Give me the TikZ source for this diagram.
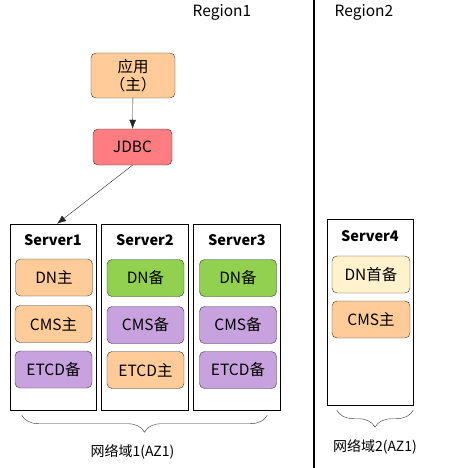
\documentclass[tikz,border=0pt]{standalone}
\usepackage{fontspec}
\setmainfont{Noto Sans CJK SC}
\usetikzlibrary{arrows.meta,positioning,calc,decorations.pathreplacing}

\definecolor{peach}{RGB}{255,204,153}
\definecolor{leaf}{RGB}{146,208,80}
\definecolor{lilac}{RGB}{200,162,222}
\definecolor{cream}{RGB}{255,242,204}
\definecolor{salmon}{RGB}{255,124,128}

\begin{document}
\begin{tikzpicture}[
    x=1pt, y=-1pt,
    >={Latex[length=9pt,width=7pt]},
    basebox/.style={
        draw=black!80,
        rounded corners=5pt,
        align=center,
        minimum width=77pt,
        minimum height=37pt,
        inner sep=0pt,
        font=\fontsize{15.5}{17}\selectfont
    },
    % Role colours
    mainbox/.style={basebox, fill=peach},
    standbybox/.style={basebox, fill=lilac},
    dnbox/.style={basebox, fill=leaf},
    firstbox/.style={basebox, fill=cream},
    jdbcbox/.style={basebox, fill=salmon},
    serverbox/.style={draw, minimum width=86pt, minimum height=186pt, inner sep=0pt},
    title/.style={font=\bfseries\fontsize{14.5}{16}\selectfont},
    regionlabel/.style={font=\fontsize{15.5}{17}\selectfont},
    domainlabel/.style={font=\fontsize{14}{16}\selectfont},
    brace/.style={decorate, decoration={brace, mirror, amplitude=17pt}, draw=black!80},
    arrow/.style={->, draw=black!85}
]
\useasboundingbox (0,0) rectangle (464,468);

% Regions
\node[regionlabel] (r1) at (222,12) {Region1};
\node[regionlabel] (r2) at (364,12) {Region2};
\coordinate (divtop) at (314,0);
\coordinate (divbot) at (314,468);
\draw[line width=2pt] (divtop) -- (divbot);

% Application
\node[mainbox, minimum width=84pt, minimum height=45pt, font=\fontsize{15.5}{18}\selectfont] (app) at (133,75.5) {应用\\（主）};
\node[jdbcbox, minimum width=79pt, minimum height=36pt] (jdbc) at (132.5,147) {JDBC};

% Servers
\node[serverbox] (s1) at (53,317) {};
\node[serverbox, minimum width=87pt] (s2) at (145,317) {};
\node[serverbox, minimum width=87pt] (s3) at (236.5,317) {};
\node[serverbox] (s4) at (370,312) {};

\node[title] (t1) at (53,240) {Server1};
\node[title] (t2) at (145,240) {Server2};
\node[title] (t3) at (237,240) {Server3};
\node[title] (t4) at (370,236) {Server4};

\node[mainbox] (dn1) at (54,277.5) {DN主};
\node[mainbox] (cms1) at (53.5,324) {CMS主};
\node[standbybox] (etcd1) at (53.5,369.5) {ETCD备};

\node[dnbox] (dn2) at (145.5,278) {DN备};
\node[standbybox] (cms2) at (145.5,325) {CMS备};
\node[mainbox] (etcd2) at (145.5,370) {ETCD主};

\node[dnbox] (dn3) at (238,278) {DN备};
\node[standbybox] (cms3) at (238,325) {CMS备};
\node[standbybox] (etcd3) at (238,370) {ETCD备};

\node[firstbox, minimum width=78pt] (dn4) at (371,274.5) {DN首备};
\node[mainbox, minimum width=78pt] (cms4) at (371,319.5) {CMS主};

% Network domains
\coordinate (b1l) at ($(s1.south west)+(12,5)$);
\coordinate (b1r) at ($(s3.south east)+(-13,5)$);
\coordinate (b2l) at ($(s4.south west)+(10,5)$);
\coordinate (b2r) at ($(s4.south east)+(0,5)$);
\draw[brace] (b1l) -- node[midway, below=26pt, xshift=-12pt, domainlabel] (az1) {网络域1(AZ1)} (b1r);
\draw[brace] (b2l) -- node[midway, below=26pt, domainlabel] (az2) {网络域2(AZ1)} (b2r);

% Connections
\draw[arrow] (app) -- (jdbc);
\draw[arrow] (jdbc.south) -- ($(s1.north)+(4,0)$);

\end{tikzpicture}
\end{document}
